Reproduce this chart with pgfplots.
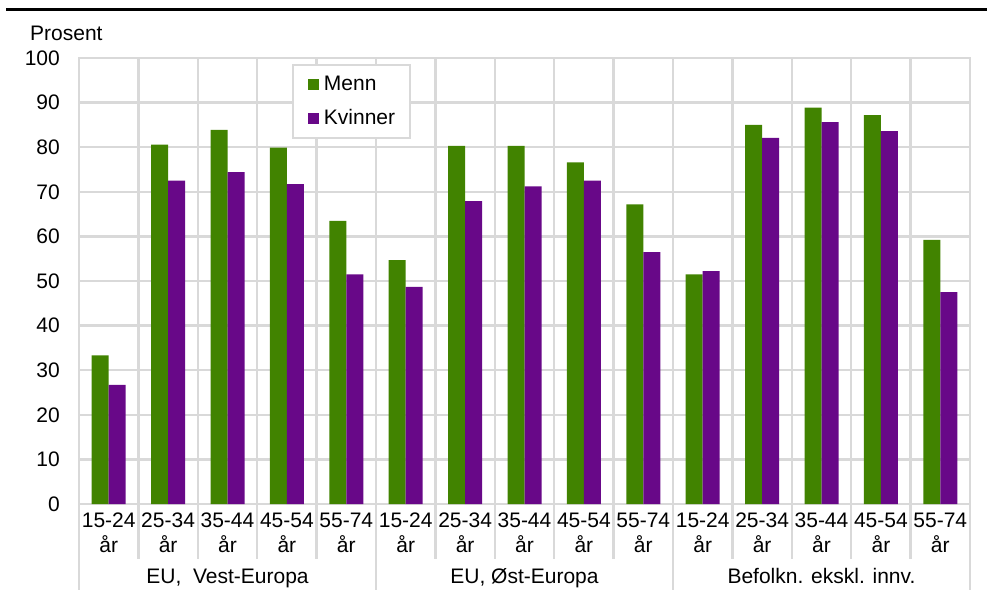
\documentclass[border=0pt]{standalone}
\usepackage{pgfplots}
\pgfplotsset{compat=1.18}
\usepackage{fontspec}
\setmainfont{Liberation Sans}
\definecolor{menn}{RGB}{65,131,0}
\definecolor{kvinner}{RGB}{104,8,136}
\definecolor{gridgray}{RGB}{217,217,217}
\begin{document}
\fontsize{21}{24.5}\selectfont
\begin{tikzpicture}[x=1pt,y=1pt]
\useasboundingbox (0,0) rectangle (987,590);
\draw[line width=3pt] (6,580.3) -- (987,580.3);
\node[anchor=base west, inner sep=0pt] at (30,549) {Prosent};
\begin{axis}[
  at={(79pt,86pt)}, anchor=south west,
  scale only axis, width=891pt, height=446pt,
  ybar=0pt, bar width=17pt,
  xmin=-0.5, xmax=14.5, ymin=0, ymax=100,
  ytick={0,10,...,100},
  xtick={0,...,14},
  xticklabels={15-24\\år,25-34\\år,35-44\\år,45-54\\år,55-74\\år,15-24\\år,25-34\\år,35-44\\år,45-54\\år,55-74\\år,15-24\\år,25-34\\år,35-44\\år,45-54\\år,55-74\\år},
  minor xtick={0.5,1.5,...,13.5},
  ymajorgrids=true, xminorgrids=true,
  grid style={gridgray, line width=2.5pt},
  minor grid style={gridgray, line width=2.5pt},
  axis line style={gridgray, line width=2.5pt},
  major tick length=0pt, minor tick length=0pt,
  tick style={draw=none},
  /pgf/number format/assume math mode=true,
  yticklabel style={inner sep=0pt, xshift=-19pt},
  xticklabel style={align=center, inner sep=0pt, yshift=-9pt},
  clip=false,
  legend style={at={(0.239,0.9865)}, anchor=north west, draw=gridgray, line width=2pt,
    inner xsep=15pt, inner ysep=10pt, row sep=15pt, column sep=5pt,
    nodes={inner sep=0pt, text height=15pt, text depth=4pt, anchor=west}},
  legend image code/.code={\fill[#1,draw=none] (0pt,-5.5pt) rectangle (11pt,5.5pt);},
  legend cell align=left,
]
\addplot[fill=menn, draw=none] coordinates {(0,33.3) (1,80.6) (2,83.9) (3,79.9) (4,63.5) (5,54.7) (6,80.3) (7,80.3) (8,76.6) (9,67.2) (10,51.5) (11,85.0) (12,88.9) (13,87.2) (14,59.2)};
\addplot[fill=kvinner, draw=none] coordinates {(0,26.7) (1,72.5) (2,74.4) (3,71.7) (4,51.5) (5,48.7) (6,67.9) (7,71.2) (8,72.5) (9,56.5) (10,52.2) (11,82.1) (12,85.6) (13,83.6) (14,47.5)};
\legend{Menn,Kvinner}
\pgfplotsinvokeforeach{0.5,1.5,2.5,3.5,5.5,6.5,7.5,8.5,10.5,11.5,12.5,13.5}{
  \draw[gridgray, line width=2.5pt] (axis cs:#1,0) -- ([yshift=-55pt]axis cs:#1,0);
}
\pgfplotsinvokeforeach{-0.5,4.5,9.5,14.5}{
  \draw[gridgray, line width=2.5pt] (axis cs:#1,0) -- ([yshift=-86pt]axis cs:#1,0);
}
\node[anchor=base, inner sep=0pt] at ([yshift=-79pt]axis cs:2,0) {EU,\ \ Vest-Europa};
\node[anchor=base, inner sep=0pt] at ([yshift=-79pt]axis cs:7,0) {EU, Øst-Europa};
\node[anchor=base, inner sep=0pt] at ([yshift=-79pt]axis cs:12,0) {Befolkn. ekskl. innv.};
\end{axis}
\end{tikzpicture}
\end{document}
